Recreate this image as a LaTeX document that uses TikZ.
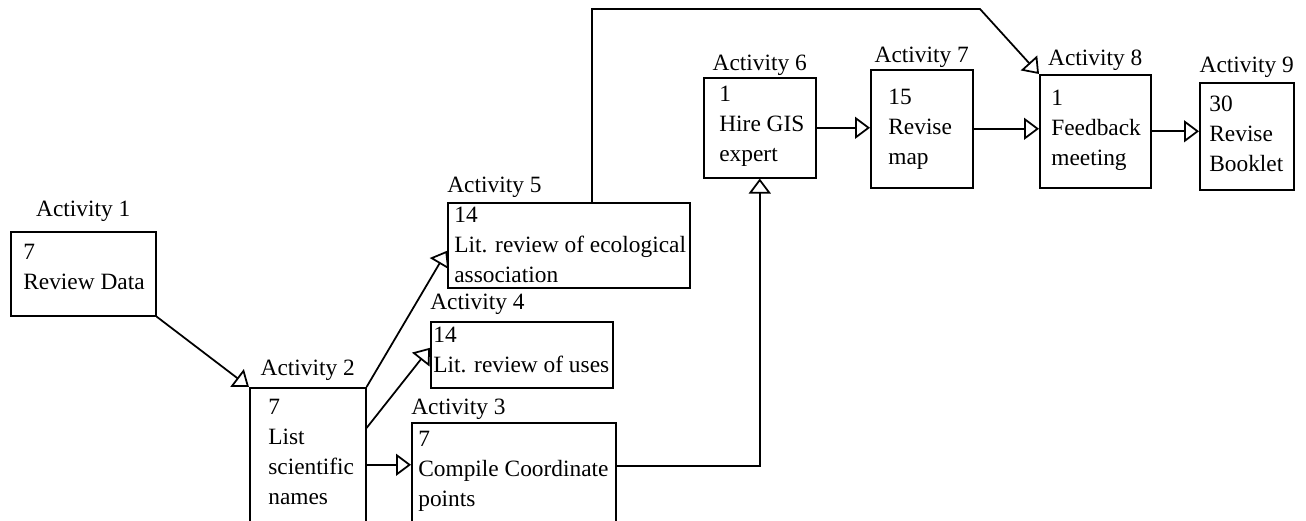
\documentclass[tikz,border=0pt]{standalone}
\usepackage{fontspec}
\setmainfont{Liberation Serif}
\usetikzlibrary{positioning,arrows.meta}

\begin{document}
\begin{tikzpicture}[x=0.02cm, y=-0.02cm, >={Triangle[open, length=0.3cm, width=0.44cm]}, font=\fontsize{13.3}{17.07}\selectfont]
        % Styles
        \tikzstyle{actbox}=[rectangle, draw, line width=0.9pt, anchor=north west, inner sep=0pt]
        \tikzstyle{acttext}=[align=left, inner sep=0pt]
        \tikzstyle{acttitle}=[inner sep=0pt]
        \tikzstyle{flow}=[->, line width=1pt]

        \useasboundingbox (0,0) rectangle (1306,521);
        \clip (0,0) rectangle (1306,521);

        % Boxes
        \node[actbox, minimum width=2.9cm,  minimum height=1.68cm] (b1) at (10,231) {};
        \node[actbox, minimum width=2.32cm, minimum height=2.72cm] (b2) at (249,387) {};
        \node[actbox, minimum width=4.08cm, minimum height=2.02cm] (b3) at (411,422) {};
        \node[actbox, minimum width=3.64cm, minimum height=1.32cm] (b4) at (430,321) {};
        \node[actbox, minimum width=4.84cm, minimum height=1.7cm]  (b5) at (447,202) {};
        \node[actbox, minimum width=2.24cm, minimum height=2.0cm]  (b6) at (703,77) {};
        \node[actbox, minimum width=2.04cm, minimum height=2.36cm] (b7) at (870,69) {};
        \node[actbox, minimum width=2.22cm, minimum height=2.26cm] (b8) at (1039,74) {};
        \node[actbox, minimum width=1.88cm, minimum height=2.14cm] (b9) at (1199,82) {};

        % Texts
        \node[acttext, below right=0.26cm and 0.26cm of b1.north west] (t1) {7\\Review Data};
        \node[acttext, below right=0.24cm and 0.38cm of b2.north west] (t2) {7\\List\\scientific\\names};
        \node[acttext, below right=0.18cm and 0.14cm of b3.north west] (t3) {7\\Compile Coordinate\\points};
        \node[acttext, below right=0.12cm and 0.06cm of b4.north west] (t4) {14\\Lit. review of uses};
        \node[acttext, below right=0.1cm and 0.14cm of b5.north west] (t5) {14\\Lit. review of ecological\\association};
        \node[acttext, below right=0.18cm and 0.32cm of b6.north west] (t6) {1\\Hire GIS\\expert};
        \node[acttext, below right=0.4cm and 0.36cm of b7.north west] (t7) {15\\Revise\\map};
        \node[acttext, below right=0.32cm and 0.24cm of b8.north west] (t8) {1\\Feedback\\meeting};
        \node[acttext, below right=0.28cm and 0.2cm of b9.north west] (t9) {30\\Revise\\Booklet};

        % Titles
        \node[acttitle, above=0.18cm of b1] (a1) {Activity 1};
        \node[acttitle, above=0.12cm of b2] (a2) {Activity 2};
        \node[acttitle, above right=0.04cm and 0cm of b3.north west] (a3) {Activity 3};
        \node[acttitle, above right=0.12cm and 0cm of b4.north west] (a4) {Activity 4};
        \node[acttitle, above right=0.08cm and 0cm of b5.north west] (a5) {Activity 5};
        \node[acttitle, above=0.02cm of b6] (a6) {Activity 6};
        \node[acttitle, above=0.02cm of b7] (a7) {Activity 7};
        \node[acttitle, above=0.06cm of b8] (a8) {Activity 8};
        \node[acttitle, above=0.08cm of b9] (a9) {Activity 9};

        % Arrows
        \draw[flow] (b1.south east) -- (b2.north west);
        \draw[flow] (b2.north east) -- ([yshift=-0.11cm]b5.west);
        \draw[flow] ([yshift=-0.82cm]b2.north east) -- ([yshift=0.14cm]b4.west);
        \draw[flow] ([yshift=-0.18cm]b2.east) coordinate (o2) -- (o2 -| b3.west);
        \draw[flow] ([yshift=0.15cm]b3.east) -| (b6.south);
        \coordinate (bend1) at (592,9);
        \coordinate (bend2) at (980,9);
        \draw[flow] (bend1 |- b5.north) -- (bend1) -- (bend2) -- (b8.north west);
        \draw[flow] (b6.east) -- (b6.east -| b7.west);
        \draw[flow] (b7.east) -- (b7.east -| b8.west);
        \draw[flow] (b8.east) -- (b8.east -| b9.west);
    \end{tikzpicture}
\end{document}
